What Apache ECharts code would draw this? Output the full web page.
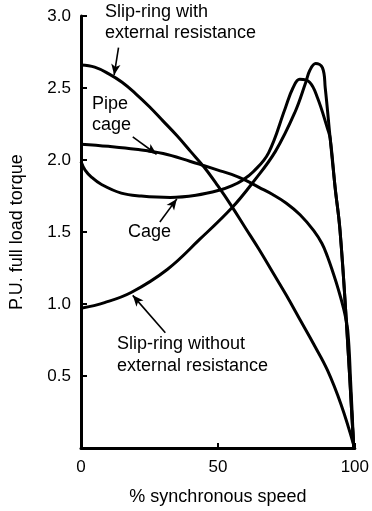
<!DOCTYPE html>
<html>
<head>
<meta charset="utf-8">
<script src="https://cdn.jsdelivr.net/npm/echarts@6/dist/echarts.min.js"></script>
<style>
html,body{margin:0;padding:0;background:#fff;}
#chart{width:372px;height:511px;}
</style>
</head>
<body>
<div id="chart"></div>
<script>
// % synchronous speed (x) and P.U. full load torque (y) for each curve
const slipExtX = [0, 5, 10, 15, 20, 25, 30, 35, 40, 45, 50, 55, 60, 65, 70, 75, 80, 85, 90, 95, 99.6];
const slipExtY = [2.66, 2.645, 2.60, 2.54, 2.46, 2.37, 2.27, 2.17, 2.06, 1.95, 1.82, 1.68, 1.53, 1.38, 1.22, 1.06, 0.89, 0.72, 0.54, 0.30, 0.02];

const pipeX = [0, 10, 20, 30, 40, 45, 50, 55, 60, 65, 70, 75, 80, 85, 88, 90, 92, 94, 96, 97.4, 98.5, 99.6];
const pipeY = [2.11, 2.095, 2.075, 2.045, 1.99, 1.96, 1.93, 1.90, 1.86, 1.81, 1.76, 1.70, 1.62, 1.51, 1.42, 1.33, 1.22, 1.10, 0.96, 0.82, 0.45, 0.0];

const cageX = [0, 1.5, 3.9, 7.5, 14.7, 22, 32.6, 42, 50.5, 55, 59, 63, 68.5, 74.6, 77.4, 79.9, 83.5, 86.4, 90, 91, 92.8, 94.6, 97.1, 99.6];
const cageY = [1.99, 1.93, 1.88, 1.83, 1.77, 1.75, 1.74, 1.755, 1.79, 1.82, 1.86, 1.92, 2.05, 2.36, 2.5, 2.56, 2.54, 2.43, 2.22, 2.15, 1.81, 1.51, 0.82, 0.0];

const slipNoX = [0, 8.6, 18.3, 31.5, 43.4, 55.2, 63, 71, 78.1, 82.1, 83.5, 85.7, 88.2, 89.2, 91, 92.8, 94.6, 97.1, 99.6];
const slipNoY = [0.97, 1.01, 1.08, 1.24, 1.45, 1.67, 1.85, 2.06, 2.33, 2.54, 2.62, 2.67, 2.64, 2.5, 2.15, 1.81, 1.51, 0.82, 0.0];

// arrows: [tailX, tailY, tipX, tipY]
const arrowExt = [13.7, 2.78, 12.1, 2.59];
const arrowPipe = [18.9, 2.16, 27.6, 2.04];
const arrowCage = [28.8, 1.57, 35.0, 1.73];
const arrowNo = [30.8, 0.80, 18.9, 1.06];

const xTicks = [0, 50, 100];
const yTicks = [0.5, 1.0, 1.5, 2.0, 2.5, 3.0];

const FONT = '"Liberation Sans", Arial, Helvetica, sans-serif';

function pairs(xs, ys) { return xs.map((x, i) => [x, ys[i]]); }
function arrow(a) {
  return [{ coord: [a[0], a[1]] }, { coord: [a[2], a[3]] }];
}
function lineSeries(name, xs, ys, arr) {
  return {
    name: name,
    type: 'line',
    data: pairs(xs, ys),
    smooth: 0.4,
    symbol: 'none',
    lineStyle: { color: '#000', width: 3 },
    z: 3,
    markLine: {
      silent: true,
      symbol: ['none', 'arrow'],
      symbolSize: [7, 11],
      lineStyle: { color: '#000', width: 1.6, type: 'solid' },
      label: { show: false },
      data: [arrow(arr)]
    }
  };
}

const chart = echarts.init(document.getElementById('chart'), null, { renderer: 'canvas' });
chart.setOption({
  animation: false,
  backgroundColor: '#fff',
  grid: { left: 79, right: 14, top: 16, bottom: 63, containLabel: false },
  xAxis: {
    type: 'value', min: 0, max: 100, interval: 50,
    name: '% synchronous speed', nameLocation: 'middle', nameGap: 40,
    nameTextStyle: { fontFamily: FONT, fontSize: 18, color: '#000' },
    axisLine: { show: true, onZero: false, lineStyle: { color: '#000', width: 3 } },
    axisTick: { show: true, inside: true, length: 5, lineStyle: { color: '#000', width: 2 } },
    axisLabel: { fontFamily: FONT, fontSize: 17, color: '#000', margin: 11,
      formatter: v => xTicks.includes(v) ? String(v) : '' },
    splitLine: { show: false }
  },
  yAxis: {
    type: 'value', min: 0, max: 3, interval: 0.5,
    name: 'P.U. full load torque', nameLocation: 'middle', nameGap: 55,
    nameTextStyle: { fontFamily: FONT, fontSize: 18, color: '#000' },
    axisLine: { show: true, onZero: false, lineStyle: { color: '#000', width: 3 } },
    axisTick: { show: true, inside: true, length: 6, lineStyle: { color: '#000', width: 2 } },
    axisLabel: { fontFamily: FONT, fontSize: 17, color: '#000', margin: 10,
      formatter: v => yTicks.some(t => Math.abs(t - v) < 1e-9) ? v.toFixed(1) : '' },
    splitLine: { show: false }
  },
  series: [
    lineSeries('Slip-ring with external resistance', slipExtX, slipExtY, arrowExt),
    lineSeries('Pipe cage', pipeX, pipeY, arrowPipe),
    lineSeries('Cage', cageX, cageY, arrowCage),
    lineSeries('Slip-ring without external resistance', slipNoX, slipNoY, arrowNo)
  ],
  graphic: [
    { type: 'text', left: 105, top: 2, silent: true,
      style: { text: 'Slip-ring with\nexternal resistance', font: '18px ' + FONT, fill: '#000', lineHeight: 21 } },
    { type: 'text', left: 92, top: 94, silent: true,
      style: { text: 'Pipe\ncage', font: '18px ' + FONT, fill: '#000', lineHeight: 21 } },
    { type: 'text', left: 128, top: 222, silent: true,
      style: { text: 'Cage', font: '18px ' + FONT, fill: '#000', lineHeight: 21 } },
    { type: 'text', left: 117, top: 333, silent: true,
      style: { text: 'Slip-ring without\nexternal resistance', font: '18px ' + FONT, fill: '#000', lineHeight: 22 } }
  ]
});
</script>
</body>
</html>
